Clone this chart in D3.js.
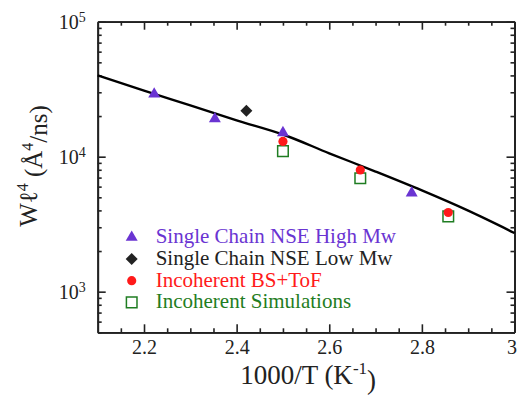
<!DOCTYPE html>
<html>
<head>
<meta charset="utf-8">
<script src="https://cdn.jsdelivr.net/npm/d3@7"></script>
<style>
  body { margin: 0; background: #fff; }
  svg { font-family: "Liberation Serif", "DejaVu Serif", serif; }
</style>
</head>
<body>
<div id="chart"></div>
<script>
// Data (x = 1000/T, W = Wl^4 in A^4/ns)
const highMwX = [2.222, 2.353, 2.5, 2.778];
const highMwW = [29600, 19400, 15300, 5480];
const lowMwX = [2.421];
const lowMwW = [21900];
const bsTofX = [2.5, 2.667, 2.857];
const bsTofW = [12970, 7970, 3860];
const simX = [2.5, 2.667, 2.857];
const simW = [10990, 6920, 3610];
const fitX = [2.1, 2.2, 2.3, 2.4, 2.5, 2.6, 2.7, 2.8, 2.9, 3.0];
const fitW = [40000, 30900, 24000, 18600, 14600, 10600, 7760, 5620, 3980, 2720];

const xTicks = [2.2, 2.4, 2.6, 2.8, 3.0];
const yTicks = [1e3, 1e4, 1e5];

const legendItems = [
    { label: "Single Chain NSE High Mw", color: "#6a34d2", shape: "triangle" },
    { label: "Single Chain NSE Low Mw", color: "#222", shape: "diamond" },
    { label: "Incoherent BS+ToF", color: "#ff1a1a", shape: "circle" },
    { label: "Incoherent Simulations", color: "#1f7d22", shape: "square" }
];

const width = 517;
const height = 402;
const margin = { left: 97.7, right: 2.5, top: 21.7, bottom: 69.7 };

const svg = d3.select("#chart")
    .append("svg")
    .attr("width", width)
    .attr("height", height);

const x = d3.scaleLinear()
    .domain([2.1, 3.0])
    .range([margin.left, width - margin.right]);

const y = d3.scaleLog()
    .domain([500, 1e5])
    .range([height - margin.bottom, margin.top]);

// minor tick positions
const xMinor = d3.range(2.15, 3.0, 0.05).filter(v => Math.abs(Math.round(v * 10) / 10 - v) > 0.01 || Math.round(v * 10) % 2 === 1);
const yMinor = [];
[100, 1000, 10000].forEach(dec => {
    for (let k = 2; k <= 9; k++) {
        const v = dec * k;
        if (v >= 500 && v < 1e5) yMinor.push(v);
    }
});

const x0 = margin.left, x1 = width - margin.right;
const y0 = height - margin.bottom, y1 = margin.top;

function styleAxis(g) {
    g.selectAll("path, line").attr("stroke", "#222").attr("stroke-width", 1.6);
    g.selectAll(".domain").attr("stroke-width", 1.8);
}

// bottom axis
svg.append("g")
    .attr("transform", `translate(0,${y0})`)
    .call(d3.axisBottom(x).tickValues(xTicks).tickSize(-8).tickPadding(8).tickSizeOuter(0)
        .tickFormat(d => d === 3 ? "3" : d3.format(".1f")(d)))
    .call(styleAxis)
    .call(g => g.selectAll("text").attr("font-size", 20).attr("fill", "#222").attr("font-family", "Liberation Serif"))
    .call(g => g.selectAll(".tick text").filter(d => d === 3).attr("dx", -3));

svg.append("g")
    .attr("transform", `translate(0,${y0})`)
    .call(d3.axisBottom(x).tickValues(xMinor).tickSize(-4).tickFormat("").tickSizeOuter(0))
    .call(styleAxis);

// top axis
svg.append("g")
    .attr("transform", `translate(0,${y1})`)
    .call(d3.axisTop(x).tickValues(xTicks).tickSize(-8).tickFormat("").tickSizeOuter(0))
    .call(styleAxis);
svg.append("g")
    .attr("transform", `translate(0,${y1})`)
    .call(d3.axisTop(x).tickValues(xMinor).tickSize(-4).tickFormat("").tickSizeOuter(0))
    .call(styleAxis);

// left axis
svg.append("g")
    .attr("transform", `translate(${x0},0)`)
    .call(d3.axisLeft(y).tickValues(yTicks).tickSize(-8).tickPadding(12).tickSizeOuter(0).tickFormat(""))
    .call(styleAxis)
    .call(g => g.selectAll(".tick text").each(function (d) {
        const t = d3.select(this)
            .attr("font-size", 20)
            .attr("fill", "#222")
            .attr("font-family", "Liberation Serif");
        t.append("tspan").text("10");
        t.append("tspan").attr("dy", "-0.5em").attr("font-size", 14).text(Math.round(Math.log10(d)));
    }));
svg.append("g")
    .attr("transform", `translate(${x0},0)`)
    .call(d3.axisLeft(y).tickValues(yMinor).tickSize(-4).tickFormat("").tickSizeOuter(0))
    .call(styleAxis);

// right axis
svg.append("g")
    .attr("transform", `translate(${x1},0)`)
    .call(d3.axisRight(y).tickValues(yTicks).tickSize(-8).tickFormat("").tickSizeOuter(0))
    .call(styleAxis);
svg.append("g")
    .attr("transform", `translate(${x1},0)`)
    .call(d3.axisRight(y).tickValues(yMinor).tickSize(-4).tickFormat("").tickSizeOuter(0))
    .call(styleAxis);

// fit curve
const fit = fitX.map((v, i) => [v, fitW[i]]);
svg.append("path")
    .datum(fit)
    .attr("fill", "none")
    .attr("stroke", "#000")
    .attr("stroke-width", 2.4)
    .attr("d", d3.line()
        .x(d => x(d[0]))
        .y(d => y(d[1]))
        .curve(d3.curveMonotoneX));

// markers
const sym = {
    triangle: d3.symbol().type(d3.symbolTriangle).size(62),
    diamond: d3.symbol().type(d3.symbolSquare).size(72),
    circle: d3.symbol().type(d3.symbolCircle).size(66),
    square: d3.symbol().type(d3.symbolSquare).size(112)
};

function drawMarker(g, shape, color, cx, cy) {
    const p = g.append("path")
        .attr("d", sym[shape]())
        .attr("transform", `translate(${cx},${cy})` + (shape === "diamond" ? " rotate(45)" : ""));
    if (shape === "square") {
        p.attr("fill", "none").attr("stroke", color).attr("stroke-width", 1.5);
    } else {
        p.attr("fill", color);
    }
}

const marks = svg.append("g");
simX.forEach((v, i) => drawMarker(marks, "square", legendItems[3].color, x(v), y(simW[i])));
bsTofX.forEach((v, i) => drawMarker(marks, "circle", legendItems[2].color, x(v), y(bsTofW[i])));
lowMwX.forEach((v, i) => drawMarker(marks, "diamond", legendItems[1].color, x(v), y(lowMwW[i])));
highMwX.forEach((v, i) => drawMarker(marks, "triangle", legendItems[0].color, x(v), y(highMwW[i]) + 1));

// legend
const legend = svg.append("g");
legendItems.forEach((d, i) => {
    const by = 243.3 + i * 21.7;
    drawMarker(legend, d.shape, d.color, 131.7, by - 6);
    legend.append("text")
        .attr("x", 155.7)
        .attr("y", by)
        .attr("font-size", 21)
        .attr("fill", d.color)
        .text(d.label);
});

// axis titles
const xt = svg.append("text")
    .attr("x", (x0 + x1) / 2 + 2)
    .attr("y", 383.5)
    .attr("text-anchor", "middle")
    .attr("font-size", 27)
    .attr("fill", "#222");
xt.append("tspan").text("1000/T (K");
xt.append("tspan").attr("dy", "-0.55em").attr("font-size", 17).text("-1");
xt.append("tspan").attr("dy", "0.55em").text(")");

const yt = svg.append("text")
    .attr("transform", "translate(37,166) rotate(-90)")
    .attr("text-anchor", "middle")
    .attr("font-size", 25)
    .attr("fill", "#222");
yt.append("tspan").text("W\u2113");
yt.append("tspan").attr("dy", "-0.55em").attr("font-size", 16).text("4");
yt.append("tspan").attr("dy", "0.55em").text(" (\u00C5");
yt.append("tspan").attr("dy", "-0.55em").attr("font-size", 16).text("4");
yt.append("tspan").attr("dy", "0.55em").text("/ns)");
</script>
</body>
</html>
